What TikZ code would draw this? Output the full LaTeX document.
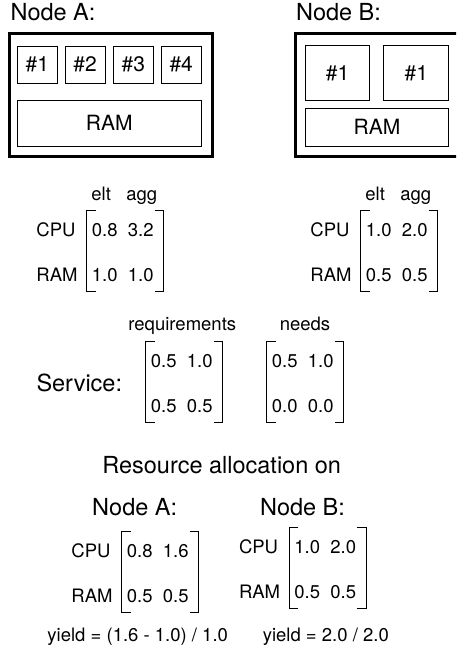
\documentclass[tikz,border=0pt]{standalone}
\usepackage{fontspec}
\setmainfont{TeX Gyre Heros}

\begin{document}
\begin{tikzpicture}[x=1pt, y=-1pt,
		title/.style={font=\fontsize{23.5}{28}\selectfont, inner sep=0pt, anchor=base},
		lbl/.style={font=\fontsize{18.5}{22}\selectfont, inner sep=0pt, anchor=base},
		slot/.style={draw, line width=1pt, inner sep=0pt, font=\fontsize{21}{25}\selectfont},
		machine/.style={draw, line width=3pt, inner sep=0pt},
		bracket/.style={line width=1.3pt}]
			\useasboundingbox (0,0) rectangle (456,649);
			\clip (0,0) rectangle (456,649);
			\newcommand{\resMatrix}[7]{
				% draws a 2x2 matrix between square brackets
				% args:
				%     name
				%     x of left bracket
				%     y of top edge
				%     the four values, row by row
				\draw[bracket] (#2+9, #3) -- (#2, #3) -- (#2, #3+81) -- (#2+9, #3+81);
				\draw[bracket] (#2+68, #3) -- (#2+77, #3) -- (#2+77, #3+81) -- (#2+68, #3+81);
				\node[lbl] (#1_11) at (#2+18, #3+26) {#4};
				\node[lbl] (#1_12) at (#2+54, #3+26) {#5};
				\node[lbl] (#1_21) at (#2+18, #3+71) {#6};
				\node[lbl] (#1_22) at (#2+54, #3+71) {#7};
			}
			\newcommand{\labelledMatrix}[7]{
				% same args, adds CPU / RAM in front of the rows
				\resMatrix{#1}{#2}{#3}{#4}{#5}{#6}{#7}
				\node[lbl, anchor=base west] (#1_cpu) at (#2-50.5, #3+26) {CPU};
				\node[lbl, anchor=base west] (#1_ram) at (#2-50.5, #3+71) {RAM};
			}
			\newcommand{\headedMatrix}[7]{
				% same args, adds elt / agg above the columns
				\labelledMatrix{#1}{#2}{#3}{#4}{#5}{#6}{#7}
				\node[lbl] (#1_elt) at (#2+14.5, #3-10.7) {elt};
				\node[lbl] (#1_agg) at (#2+55, #3-10.7) {agg};
			}
			%
			% the two nodes
			\node[title] (titleA) at (53, 20.7) {Node A:};
			\node[title] (titleB) at (338.5, 20.7) {Node B:};
			\node[machine, minimum width=202.7, minimum height=123.4] (nodeA) at (110.65, 95) {};
			\node[machine, minimum width=174.7, minimum height=123.4] (nodeB) at (382.65, 95) {};
			% cores and memory of node A
			\node[slot, minimum width=40, minimum height=37.3] (coreA1) at (37.3, 64.7) {\#1};
			\node[slot, minimum width=40, minimum height=37.3] (coreA2) at (85, 64.7) {\#2};
			\node[slot, minimum width=40, minimum height=37.3] (coreA3) at (133.3, 64.7) {\#3};
			\node[slot, minimum width=40, minimum height=37.3] (coreA4) at (181.2, 64.7) {\#4};
			\node[slot, minimum width=183.7, minimum height=46] (ramA) at (109.2, 123) {RAM};
			% cores and memory of node B
			\node[slot, minimum width=64.4, minimum height=54.7] (coreB1) at (337.5, 73.3) {\#1};
			\node[slot, minimum width=64.7, minimum height=54.7] (coreB2) at (416.3, 73.3) {\#1};
			\node[slot, minimum width=143.4, minimum height=37.7] (ramB) at (377, 127.2) {RAM};
			%
			% capacities
			\headedMatrix{capA}{86.7}{210.7}{0.8}{3.2}{1.0}{1.0}
			\headedMatrix{capB}{360.7}{210.7}{1.0}{2.0}{0.5}{0.5}
			%
			% the service
			\node[title] (service) at (79.3, 391.7) {Service:};
			\node[lbl] (reqHead) at (182.3, 330) {requirements};
			\node[lbl] (needHead) at (305, 330) {needs};
			\resMatrix{req}{145.7}{341.7}{0.5}{1.0}{0.5}{0.5}
			\resMatrix{need}{266.7}{341.7}{0.5}{1.0}{0.0}{0.0}
			%
			% allocation
			\node[title] (alloc) at (221.7, 473.3) {Resource allocation on};
			\node[title] (allocTitleA) at (134.7, 515) {Node A:};
			\node[title] (allocTitleB) at (302.5, 515) {Node B:};
			\labelledMatrix{allocA}{121.7}{531.7}{0.8}{1.6}{0.5}{0.5}
			\labelledMatrix{allocB}{289.3}{527.3}{1.0}{2.0}{0.5}{0.5}
			\node[lbl] (yieldA) at (137.7, 641) {yield = (1.6 - 1.0) / 1.0};
			\node[lbl] (yieldB) at (325.8, 641) {yield = 2.0 / 2.0};
		\end{tikzpicture}
\end{document}
